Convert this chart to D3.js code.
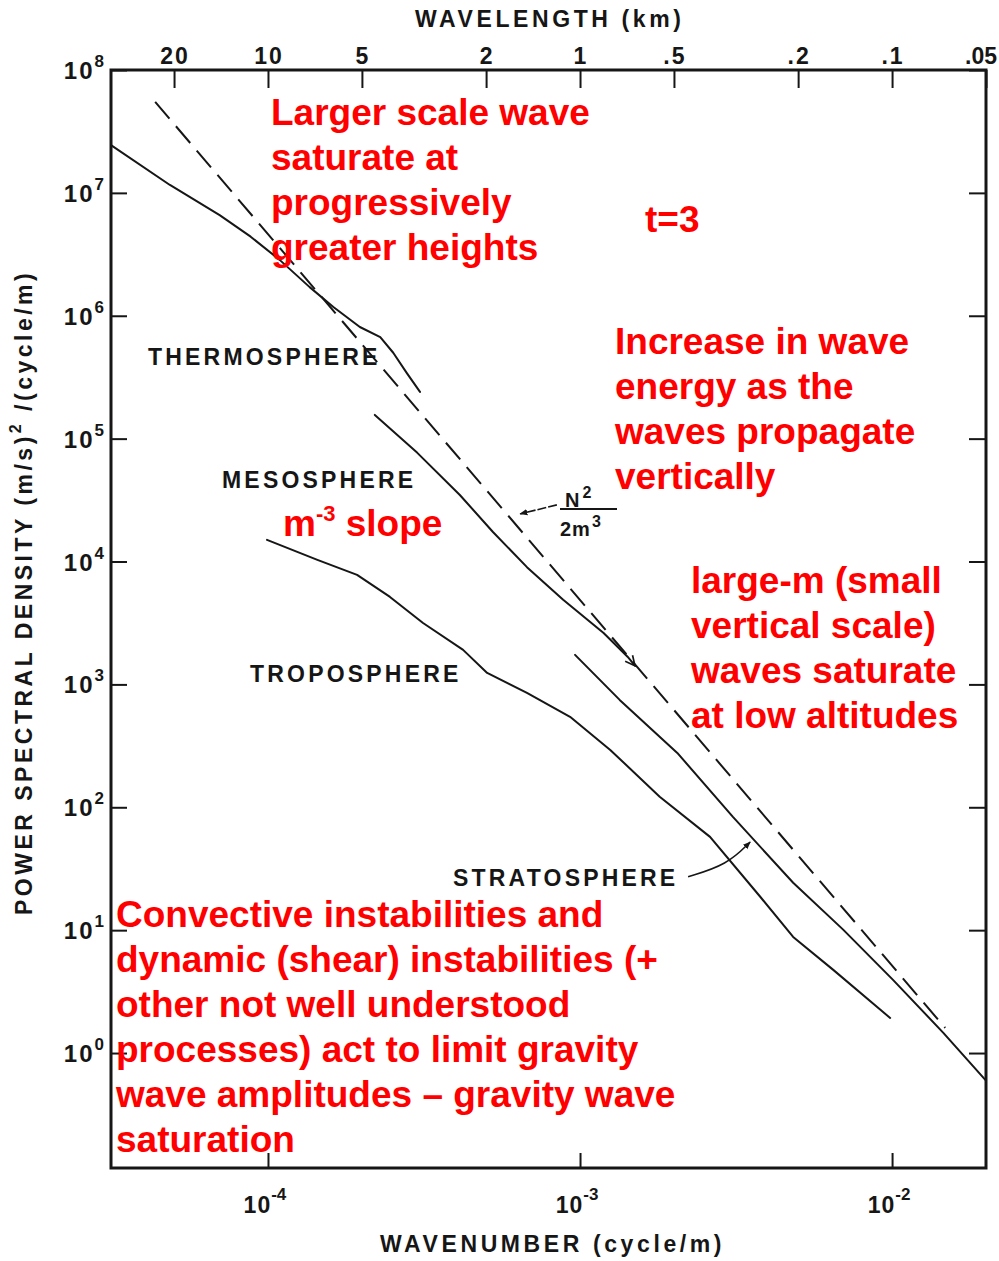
<!DOCTYPE html>
<html>
<head>
<meta charset="utf-8">
<script src="https://cdn.jsdelivr.net/npm/d3@7"></script>
<style>
  body { margin: 0; background: #fff; }
  svg { display: block; }
  .lbl { font-family: "Liberation Sans", Arial, sans-serif; font-weight: bold; fill: #161616; }
  .note { font-family: "Liberation Sans", Arial, sans-serif; font-weight: bold; fill: #ff0000; font-size: 37px; }
</style>
</head>
<body>
<script>
// spectra: wavenumber (cycle/m) -> PSD ((m/s)^2/(cycle/m))
var thermoM = [3.14e-5, 4.85e-5, 7.0e-5, 8.8e-5, 1.09e-4, 1.36e-4, 1.62e-4, 1.97e-4, 2.29e-4, 2.52e-4, 2.79e-4, 3.07e-4];
var thermoP = [2.45e7, 1.16e7, 6.6e6, 4.4e6, 2.85e6, 1.71e6, 1.18e6, 8.1e5, 6.7e5, 5.0e5, 3.4e5, 2.4e5];

var mesoM = [2.20e-4, 3.01e-4, 4.12e-4, 5.26e-4, 6.76e-4, 8.83e-4, 1.19e-3, 1.42e-3, 1.50e-3];
var mesoP = [1.56e5, 7.66e4, 3.48e4, 1.74e4, 9.0e3, 4.88e3, 2.62e3, 1.68e3, 1.42e3];

var stratoM = [9.64e-4, 1.34e-3, 2.05e-3, 3.09e-3, 4.82e-3, 6.97e-3, 1.007e-2, 1.46e-2, 1.99e-2];
var stratoP = [1740, 748, 277, 83.6, 24.3, 10.1, 3.94, 1.46, 0.605];

var tropoM = [9.93e-5, 1.44e-4, 1.93e-4, 2.46e-4, 3.14e-4, 4.22e-4, 5.04e-4, 6.76e-4, 9.29e-4, 1.25e-3, 1.80e-3, 2.61e-3, 3.78e-3, 4.82e-3, 6.48e-3, 9.86e-3];
var tropoP = [1.50e4, 1.03e4, 7.78e3, 5.15e3, 3.16e3, 1.91e3, 1.24e3, 853, 545, 293, 122, 57.4, 18.7, 8.8, 4.75, 1.93];

// N^2/(2m^3) saturation limit (dashed)
var satM = [4.35e-5, 1.48e-2];
var satP = [5.5e7, 1.60];

// axis ticks
var decadeExps = [0, 1, 2, 3, 4, 5, 6, 7, 8];
var wavelengthKm = [20, 10, 5, 2, 1, 0.5, 0.2, 0.1, 0.05];
var wavelengthLabels = ['20', '10', '5', '2', '1', '.5', '.2', '.1', '.05'];
var wavenumberExps = [-4, -3, -2];

// red annotation blocks
var noteLarger = ['Larger scale wave', 'saturate at', 'progressively', 'greater heights'];
var noteT = ['t=3'];
var noteIncrease = ['Increase in wave', 'energy as the', 'waves propagate', 'vertically'];
var noteLargeM = ['large-m (small', 'vertical scale)', 'waves saturate', 'at low altitudes'];
var noteConvective = ['Convective instabilities and', 'dynamic (shear) instabilities (+',
  'other not well understood', 'processes) act to limit gravity',
  'wave amplitudes \u2013 gravity wave', 'saturation'];

// arrow anchors in data units [m, P]
var n2Arrow = [[8.43e-4, 2.89e4], [6.43e-4, 2.44e4]];
var stratoArrow = [[2.22e-3, 27.2], [2.96e-3, 34], [3.51e-3, 52.2]];

var W = 999, H = 1261;

var svg = d3.select('body').append('svg').attr('width', W).attr('height', H);

var x = d3.scaleLog().domain([3.14e-5, 0.02]).range([111, 986]);
var y = d3.scaleLog().domain([0.116, 1e8]).range([1168, 70]);

var x0 = x.range()[0], x1 = x.range()[1];
var yTop = y.range()[1], yBot = y.range()[0];

var defs = svg.append('defs');
defs.append('marker').attr('id', 'head').attr('viewBox', '0 0 10 10')
  .attr('refX', 9).attr('refY', 5).attr('markerWidth', 5).attr('markerHeight', 5)
  .attr('orient', 'auto')
  .append('path').attr('d', 'M0,1 L10,5 L0,9 Z').attr('fill', '#161616');
defs.append('marker').attr('id', 'vee').attr('viewBox', '0 0 10 10')
  .attr('refX', 9).attr('refY', 5).attr('markerWidth', 6).attr('markerHeight', 6)
  .attr('orient', 'auto')
  .append('path').attr('d', 'M1,1 L9,5 L1,9').attr('fill', 'none')
  .attr('stroke', '#161616').attr('stroke-width', 1.4);

// ticks (all point inward)
function styleAxis(g) {
  g.select('.domain').remove();
  g.selectAll('.tick line').attr('stroke', '#161616').attr('stroke-width', 2);
}
var decades = decadeExps.map(function (e) { return Math.pow(10, e); });

svg.append('g').attr('transform', 'translate(' + x0 + ',0)')
  .call(d3.axisLeft(y).tickValues(decades).tickSize(-16).tickFormat(''))
  .call(styleAxis);
svg.append('g').attr('transform', 'translate(' + x1 + ',0)')
  .call(d3.axisRight(y).tickValues(decades).tickSize(-17).tickFormat(''))
  .call(styleAxis);
svg.append('g').attr('transform', 'translate(0,' + yTop + ')')
  .call(d3.axisTop(x).tickValues(wavelengthKm.map(function (k) { return 1 / (k * 1000); }))
    .tickSize(-18).tickFormat(''))
  .call(styleAxis);
svg.append('g').attr('transform', 'translate(0,' + yBot + ')')
  .call(d3.axisBottom(x).tickValues(wavenumberExps.map(function (e) { return Math.pow(10, e); }))
    .tickSize(-15).tickFormat(''))
  .call(styleAxis);

// frame
svg.append('rect').attr('x', x0).attr('y', yTop)
  .attr('width', x1 - x0).attr('height', yBot - yTop)
  .attr('fill', 'none').attr('stroke', '#161616').attr('stroke-width', 3);

// tick labels
var leftLbl = svg.append('g').attr('class', 'lbl');
decadeExps.forEach(function (e) {
  var t = leftLbl.append('text').attr('x', 104).attr('y', y(Math.pow(10, e)) + 9)
    .attr('text-anchor', 'end').attr('font-size', 24);
  t.append('tspan').attr('letter-spacing', 2).text('10');
  t.append('tspan').attr('font-size', 17).attr('dy', -12).text(e);
});

var topLbl = svg.append('g').attr('class', 'lbl');
wavelengthKm.forEach(function (k, i) {
  var last = i === wavelengthKm.length - 1;
  topLbl.append('text').attr('x', last ? 997 : x(1 / (k * 1000)) + 1).attr('y', 64)
    .attr('text-anchor', last ? 'end' : 'middle').attr('font-size', 23)
    .attr('letter-spacing', last ? 0 : 2)
    .text(wavelengthLabels[i]);
});

var botLbl = svg.append('g').attr('class', 'lbl');
wavenumberExps.forEach(function (e) {
  var t = botLbl.append('text').attr('x', x(Math.pow(10, e)) - 3).attr('y', 1213)
    .attr('text-anchor', 'middle').attr('font-size', 23);
  t.append('tspan').attr('letter-spacing', 1).text('10');
  t.append('tspan').attr('font-size', 17).attr('dy', -13).text(e);
});

// axis titles
svg.append('text').attr('class', 'lbl').attr('x', 415).attr('y', 27)
  .attr('font-size', 23).attr('letter-spacing', 3.6).text('WAVELENGTH (km)');
svg.append('text').attr('class', 'lbl').attr('x', 380).attr('y', 1252)
  .attr('font-size', 23).attr('letter-spacing', 3.6).text('WAVENUMBER (cycle/m)');
var yt = svg.append('text').attr('class', 'lbl')
  .attr('transform', 'translate(32,915) rotate(-90)')
  .attr('font-size', 23).attr('letter-spacing', 3.5);
yt.append('tspan').text('POWER SPECTRAL DENSITY (m/s)');
yt.append('tspan').attr('font-size', 16).attr('dy', -11).text('2');
yt.append('tspan').attr('dy', 11).text(' /(cycle/m)');

// spectra
var line = d3.line()
  .x(function (d) { return x(d[0]); })
  .y(function (d) { return y(d[1]); });

function pairs(ms, ps) { return ms.map(function (m, i) { return [m, ps[i]]; }); }

var curves = svg.append('g').attr('fill', 'none').attr('stroke', '#161616')
  .attr('stroke-width', 2).attr('stroke-linejoin', 'round').attr('stroke-linecap', 'round');
curves.append('path').attr('d', line(pairs(thermoM, thermoP)));
curves.append('path').attr('d', line(pairs(mesoM, mesoP))).attr('marker-end', 'url(#vee)');
curves.append('path').attr('d', line(pairs(stratoM, stratoP)));
curves.append('path').attr('d', line(pairs(tropoM, tropoP)));
curves.append('path').attr('d', line(pairs(satM, satP)))
  .attr('stroke-dasharray', '22,10').attr('stroke-linecap', 'butt');

// region labels
var regions = [
  ['THERMOSPHERE', 148, 365],
  ['MESOSPHERE', 222, 488],
  ['TROPOSPHERE', 250, 682],
  ['STRATOSPHERE', 453, 886]
];
svg.append('g').attr('class', 'lbl').selectAll('text').data(regions).enter()
  .append('text').attr('x', function (d) { return d[1]; }).attr('y', function (d) { return d[2]; })
  .attr('font-size', 23).attr('letter-spacing', 3.2)
  .text(function (d) { return d[0]; });

// N^2 / 2m^3 label with arrow
var frac = svg.append('g').attr('class', 'lbl');
var tN = frac.append('text').attr('x', 565).attr('y', 507).attr('font-size', 20);
tN.append('tspan').text('N');
tN.append('tspan').attr('font-size', 16).attr('dx', 3).attr('dy', -9).text('2');
var tM = frac.append('text').attr('x', 560).attr('y', 536).attr('font-size', 20).attr('letter-spacing', 1);
tM.append('tspan').text('2m');
tM.append('tspan').attr('font-size', 16).attr('dx', 1).attr('dy', -9).text('3');
frac.append('line').attr('x1', 560).attr('x2', 617).attr('y1', 509).attr('y2', 509)
  .attr('stroke', '#161616').attr('stroke-width', 2);

svg.append('path').attr('d', line(n2Arrow))
  .attr('fill', 'none').attr('stroke', '#161616').attr('stroke-width', 1.6)
  .attr('stroke-dasharray', '9,2').attr('marker-end', 'url(#head)');

svg.append('path').attr('d', line.curve(d3.curveBasis)(stratoArrow))
  .attr('fill', 'none').attr('stroke', '#161616').attr('stroke-width', 1.6)
  .attr('marker-end', 'url(#head)');
line.curve(d3.curveLinear);

// red notes
function note(lines, x, y) {
  var t = svg.append('text').attr('class', 'note');
  lines.forEach(function (s, i) {
    t.append('tspan').attr('x', x).attr('y', y + i * 45).text(s);
  });
}
note(noteLarger, 271, 125);
note(noteT, 645, 232);
note(noteIncrease, 615, 354);
note(noteLargeM, 691, 593);
note(noteConvective, 116, 927);

var slope = svg.append('text').attr('class', 'note').attr('x', 283).attr('y', 536);
slope.append('tspan').text('m');
slope.append('tspan').attr('font-size', 22).attr('dy', -15).text('-3');
slope.append('tspan').attr('dy', 15).text(' slope');
</script>
</body>
</html>
